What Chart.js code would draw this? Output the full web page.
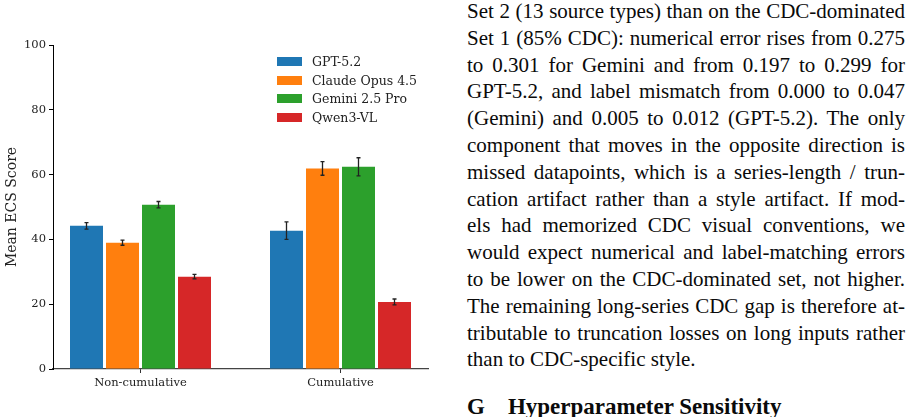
<!DOCTYPE html>
<html lang="en">
<head>
  <meta charset="UTF-8">
  <title>Mean ECS Score by Model</title>
  <script src="https://cdn.jsdelivr.net/npm/chart.js"></script>
  <style>
    html, body { margin: 0; padding: 0; background: #fff; }
    body { width: 915px; height: 417px; position: relative; overflow: hidden; }
    #chartBox { position: absolute; left: 0; top: 0; width: 460px; height: 417px; }
    #legend { position: absolute; left: 277px; top: 52.5px; font-family: "DejaVu Serif", serif; font-size: 12.5px; color: #222; }
    #legend .row { height: 18.5px; display: flex; align-items: center; white-space: nowrap; }
    #legend .box { width: 25px; height: 9px; margin-right: 10px; display: inline-block; }
    #text { position: absolute; left: 467px; top: -2px; width: 438px; font-family: "Liberation Serif", "Times New Roman", serif; font-size: 21px; line-height: 26.8px; color: #0a0a0a; }
    #text .l { text-align: justify; text-align-last: justify; }
    #text .last { text-align: left; text-align-last: left; }
    #heading { position: absolute; left: 467px; top: 394px; font-family: "Liberation Serif", "Times New Roman", serif; font-weight: bold; font-size: 23px; line-height: 26px; color: #0a0a0a; white-space: pre; }
  </style>
</head>
<body>
  <div id="chartBox"><canvas id="ecsChart" width="460" height="417"></canvas></div>
  <div id="legend"></div>
  <div id="text">
    <div class="l">Set 2 (13 source types) than on the CDC-dominated</div>
    <div class="l">Set 1 (85% CDC): numerical error rises from 0.275</div>
    <div class="l">to 0.301 for Gemini and from 0.197 to 0.299 for</div>
    <div class="l">GPT-5.2, and label mismatch from 0.000 to 0.047</div>
    <div class="l">(Gemini) and 0.005 to 0.012 (GPT-5.2). The only</div>
    <div class="l">component that moves in the opposite direction is</div>
    <div class="l">missed datapoints, which is a series-length / trun-</div>
    <div class="l">cation artifact rather than a style artifact. If mod-</div>
    <div class="l">els had memorized CDC visual conventions, we</div>
    <div class="l">would expect numerical and label-matching errors</div>
    <div class="l">to be lower on the CDC-dominated set, not higher.</div>
    <div class="l">The remaining long-series CDC gap is therefore at-</div>
    <div class="l">tributable to truncation losses on long inputs rather</div>
    <div class="l last">than to CDC-specific style.</div>
  </div>
  <div id="heading">G    Hyperparameter Sensitivity</div>

  <script>
    const categories = ['Non-cumulative', 'Cumulative'];
    const models = ['GPT-5.2', 'Claude Opus 4.5', 'Gemini 2.5 Pro', 'Qwen3-VL'];
    const colors = ['#1f77b4', '#ff7f0e', '#2ca02c', '#d62728'];

    // mean score per category, and the error bar half-length
    const gptScores = [44.2, 42.7];
    const gptErr = [1.0, 2.7];
    const claudeScores = [39.0, 61.9];
    const claudeErr = [0.8, 2.1];
    const geminiScores = [50.7, 62.4];
    const geminiErr = [1.0, 2.8];
    const qwenScores = [28.5, 20.7];
    const qwenErr = [0.7, 0.9];

    const yTicks = [0, 20, 40, 60, 80, 100];

    const scores = [gptScores, claudeScores, geminiScores, qwenScores];
    const errors = [gptErr, claudeErr, geminiErr, qwenErr];

    const tickFont = { family: 'DejaVu Serif', size: 11.5 };

    const datasets = models.map((name, idx) => ({
      label: name,
      data: scores[idx].map((v, i) => ({ x: i, y: v })),
      errors: errors[idx],
      backgroundColor: colors[idx],
      borderWidth: 0,
      categoryPercentage: 0.72,
      barPercentage: 33 / 36
    }));

    const errorBars = {
      id: 'errorBars',
      afterDatasetsDraw(chart) {
        const ctx = chart.ctx;
        const y = chart.scales.y;
        ctx.save();
        ctx.strokeStyle = '#222';
        ctx.lineWidth = 1.3;
        chart.data.datasets.forEach((ds, di) => {
          chart.getDatasetMeta(di).data.forEach((bar, i) => {
            const v = ds.data[i].y;
            const e = ds.errors[i];
            const top = y.getPixelForValue(v + e);
            const bot = y.getPixelForValue(v - e);
            ctx.beginPath();
            ctx.moveTo(bar.x, top);
            ctx.lineTo(bar.x, bot);
            ctx.moveTo(bar.x - 2, top);
            ctx.lineTo(bar.x + 2, top);
            ctx.moveTo(bar.x - 2, bot);
            ctx.lineTo(bar.x + 2, bot);
            ctx.stroke();
          });
        });
        ctx.restore();
      }
    };

    const chart = new Chart(document.getElementById('ecsChart'), {
      type: 'bar',
      data: { datasets: datasets },
      options: {
        responsive: false,
        animation: false,
        devicePixelRatio: 1,
        layout: { padding: { top: 45, right: 32, left: 0, bottom: 0 } },
        plugins: {
          legend: { display: false },
          tooltip: { enabled: false }
        },
        scales: {
          x: {
            type: 'linear',
            min: -0.4375,
            max: 1.4375,
            offset: false,
            afterBuildTicks: s => { s.ticks = categories.map((c, i) => ({ value: i })); },
            afterFit: s => { s.height = 48; },
            ticks: {
              font: tickFont,
              color: '#222',
              padding: 3,
              maxRotation: 0,
              callback: (v, i) => categories[i]
            },
            grid: { display: true, offset: false, drawOnChartArea: false, drawTicks: true, tickLength: 4, color: '#333' },
            border: { display: true, color: '#444', width: 1.2 }
          },
          y: {
            min: 0,
            max: 100,
            afterBuildTicks: s => { s.ticks = yTicks.map(v => ({ value: v })); },
            afterFit: s => { s.width = 53; },
            ticks: { font: tickFont, color: '#222', padding: 3 },
            grid: { display: true, drawOnChartArea: false, drawTicks: true, tickLength: 4, color: '#000' },
            border: { display: true, color: '#000', width: 1 },
            title: {
              display: true,
              text: 'Mean ECS Score',
              font: { family: 'DejaVu Serif', size: 14 },
              color: '#222',
              padding: { top: 4, bottom: 0 }
            }
          }
        }
      },
      plugins: [errorBars]
    });

    // legend built from the same datasets
    const legend = document.getElementById('legend');
    chart.data.datasets.forEach(ds => {
      const row = document.createElement('div');
      row.className = 'row';
      const box = document.createElement('span');
      box.className = 'box';
      box.style.background = ds.backgroundColor;
      row.appendChild(box);
      row.appendChild(document.createTextNode(ds.label));
      legend.appendChild(row);
    });
  </script>
</body>
</html>
